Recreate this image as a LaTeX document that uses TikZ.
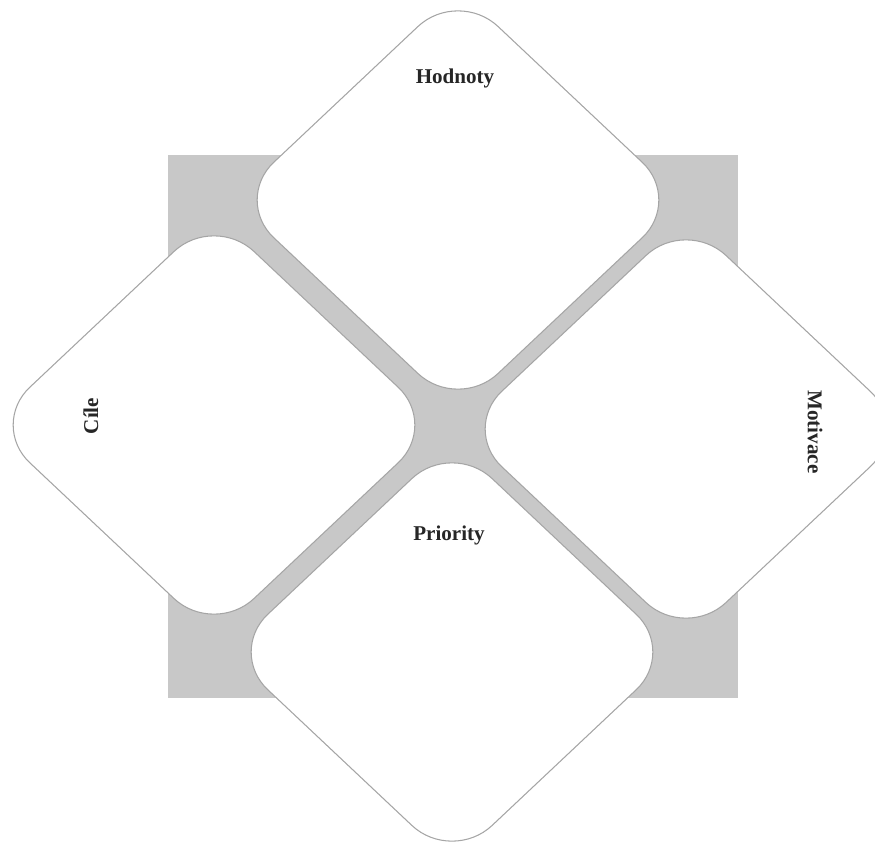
\documentclass[tikz,border=0pt]{standalone}
\usepackage{fontspec}
\setmainfont{Liberation Serif}
\usepackage{tikz}
\usetikzlibrary{positioning}
\definecolor{backgray}{RGB}{200,200,200}
\definecolor{edgegray}{RGB}{165,165,165}

\begin{document}
\begin{tikzpicture}[
  x=0.02cm, y=-0.02cm,
  card/.style={rectangle, xscale=1.03, yscale=0.97, rotate=45,
    draw=edgegray, fill=white, line width=0.6pt,
    rounded corners=1.1cm, minimum size=6.16cm, inner sep=0pt},
  lbl/.style={font=\fontsize{12}{14}\selectfont\bfseries, text=black!85}
]
  \clip (0,0) rectangle (875,845);

  % Background square
  \fill[backgray] (168,155) rectangle (738,698);

  % Cards
  \node[card] (hod) at (458,200) {};
  \node[card] (cil) at (214,425) {};
  \node[card] (mot) at (686,429) {};
  \node[card] (pri) at (452,652) {};

  % Labels
  \node[lbl] (thod) at (455,78) {Hodnoty};
  \node[lbl, rotate=90] (tcil) at (91,416) {Cíle};
  \node[lbl, rotate=-90] (tmot) at (815,432) {Motivace};
  \node[lbl] (tpri) at (449,535) {Priority};
\end{tikzpicture}
\end{document}
